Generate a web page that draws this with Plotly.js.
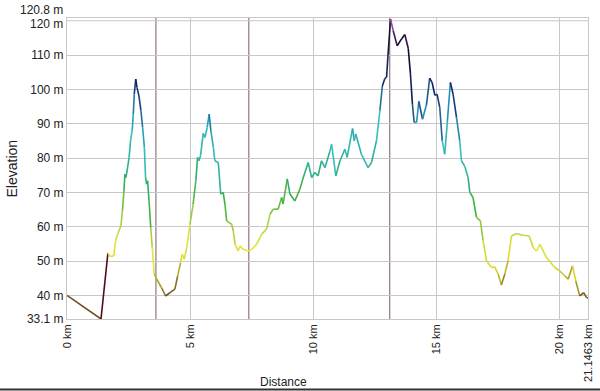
<!DOCTYPE html>
<html>
<head>
<meta charset="utf-8">
<script src="https://cdn.plot.ly/plotly-3.0.1.min.js"></script>
<style>html,body{margin:0;padding:0;background:#fff;}#chart{width:600px;height:391px;}</style>
</head>
<body>
<div id="chart"></div>
<script>
// Distance along route (km)
const distanceKm = [0, 1.38, 1.66, 1.76, 1.90, 1.97, 2.08, 2.19, 2.25, 2.31, 2.35, 2.39, 2.45, 2.52, 2.58, 2.65, 2.69, 2.73, 2.79, 2.84, 2.92, 3.00, 3.07, 3.14, 3.19, 3.23, 3.27, 3.33, 3.40, 3.46, 3.54, 3.64, 3.84, 4.00, 4.18, 4.38, 4.49, 4.61, 4.68, 4.76, 4.86, 4.99, 5.12, 5.23, 5.30, 5.35, 5.42, 5.53, 5.60, 5.69, 5.77, 5.84, 5.94, 6.00, 6.14, 6.24, 6.34, 6.41, 6.48, 6.68, 6.75, 6.82, 6.95, 7.02, 7.15, 7.36, 7.49, 7.70, 7.90, 8.10, 8.24, 8.37, 8.57, 8.71, 8.77, 8.94, 9.05, 9.25, 9.45, 9.61, 9.79, 9.93, 10.06, 10.19, 10.33, 10.47, 10.67, 10.74, 10.91, 11.08, 11.28, 11.37, 11.59, 11.66, 11.72, 11.95, 12.22, 12.36, 12.56, 12.70, 12.80, 12.90, 12.97, 13.03, 13.13, 13.24, 13.40, 13.58, 13.71, 13.85, 13.94, 14.02, 14.09, 14.19, 14.28, 14.43, 14.59, 14.72, 14.82, 14.93, 15.02, 15.13, 15.23, 15.33, 15.44, 15.56, 15.67, 15.81, 15.94, 16.01, 16.15, 16.28, 16.35, 16.48, 16.62, 16.78, 16.89, 17.03, 17.23, 17.36, 17.50, 17.63, 17.77, 17.90, 18.04, 18.24, 18.51, 18.76, 18.92, 19.06, 19.19, 19.46, 19.80, 20.00, 20.20, 20.34, 20.52, 20.65, 20.81, 20.97, 21.08, 21.1463];
// Elevation (m)
const elevationM = [40, 33.1, 52.3, 51.3, 51.5, 55.9, 58.3, 60.2, 64.6, 70.4, 75.3, 74.3, 76.8, 80.2, 85.0, 88.4, 92.8, 98.6, 103.0, 100.6, 98.1, 93.8, 88.9, 83.1, 74.3, 72.4, 73.4, 67.5, 59.7, 53.9, 46.2, 44.7, 42.2, 39.8, 40.8, 41.8, 45.6, 49.5, 52.0, 50.5, 53.9, 60.7, 66.6, 73.4, 80.2, 79.2, 80.7, 87.2, 86.0, 88.9, 92.8, 87.9, 83.1, 79.2, 78.7, 69.5, 70.0, 66.6, 61.7, 60.7, 58.8, 54.9, 52.9, 54.4, 53.4, 52.9, 53.4, 54.9, 57.8, 59.3, 63.6, 65.1, 65.1, 68.5, 66.6, 73.9, 69.5, 67.5, 70.9, 74.8, 78.7, 74.3, 75.8, 74.8, 79.2, 77.2, 82.0, 84.0, 74.8, 79.2, 82.6, 80.2, 88.6, 85.0, 87.0, 81.1, 77.2, 78.7, 85.0, 93.8, 101.0, 103.2, 103.5, 110.0, 120.5, 117.1, 112.7, 114.7, 116.0, 112.0, 104.5, 95.7, 90.4, 90.4, 96.5, 91.3, 95.5, 103.3, 102.0, 98.3, 98.6, 94.7, 85.0, 81.1, 90.8, 102.0, 98.6, 91.8, 85.0, 79.2, 77.5, 74.3, 70.0, 68.5, 62.7, 61.7, 55.9, 50.0, 48.1, 48.3, 46.2, 43.0, 46.2, 50.0, 57.3, 58.0, 57.5, 57.3, 53.9, 52.9, 54.9, 51.0, 48.1, 47.1, 45.7, 44.7, 48.6, 44.2, 39.8, 40.8, 39.4, 39.2];
// Waypoint markers (km)
const markerKm = [3.61, 7.38, 13.10];
// Axis ticks
const xTickVals = [0, 5, 10, 15, 20, 21.1463];
const xTickText = ['0 km', '5 km', '10 km', '15 km', '20 km', '21.1463 km'];
const yTickVals = [33.1, 40, 50, 60, 70, 80, 90, 100, 110];
const yTickText = ['33.1 m', '40 m', '50 m', '60 m', '70 m', '80 m', '90 m', '100 m', '110 m'];
const yGridTop = 120, yGridTopText = '120 m';
const yMin = 33.1, yMax = 120.8, yMaxText = '120.8 m';

// elevation colour ramp (style)
const ramp = [
  [33, '#520a1c'], [37, '#5c3218'], [40, '#6a5020'], [44, '#a09828'], [48, '#d8d030'],
  [53, '#e6e640'], [58, '#c4d440'], [63, '#84c440'], [68, '#40b040'], [73, '#30b068'],
  [78, '#30b0a0'], [85, '#34c0c0'], [92, '#2088a8'], [97, '#204488'], [102, '#122466'],
  [108, '#101a3c'], [114, '#100a2a'], [118, '#502060'], [121, '#a050b0']
];
function hex2rgb(h){return [parseInt(h.slice(1,3),16),parseInt(h.slice(3,5),16),parseInt(h.slice(5,7),16)];}
function colorAt(v){
  if (v <= ramp[0][0]) return ramp[0][1];
  for (let i = 1; i < ramp.length; i++) {
    if (v <= ramp[i][0]) {
      const t = (v - ramp[i-1][0]) / (ramp[i][0] - ramp[i-1][0]);
      const a = hex2rgb(ramp[i-1][1]), b = hex2rgb(ramp[i][1]);
      const c = a.map((x, k) => Math.round(x + (b[k] - x) * t));
      return 'rgb(' + c.join(',') + ')';
    }
  }
  return ramp[ramp.length-1][1];
}

const traces = [];
for (let i = 0; i < distanceKm.length - 1; i++) {
  traces.push({
    type: 'scatter', mode: 'lines',
    x: [distanceKm[i], distanceKm[i+1]],
    y: [elevationM[i], elevationM[i+1]],
    line: {color: colorAt(elevationM[i]), width: 1.6},
    hoverinfo: 'skip', showlegend: false
  });
}

const fam = 'Liberation Sans, Arial, sans-serif';
const xfont = {family: fam, size: 11, color: '#222'};
const yfont = {family: fam, size: 12, color: '#222'};
const shapes = markerKm.map(k => ({
  type: 'line', xref: 'x', yref: 'paper', x0: k, x1: k, y0: 0, y1: 1,
  line: {color: '#7a5c60', width: 1}, layer: 'below'
}));
shapes.push({type: 'line', xref: 'x', yref: 'y', x0: 0, x1: 21.1463, y0: yGridTop, y1: yGridTop,
  line: {color: '#c8c8c8', width: 1}, layer: 'below'});
shapes.push({type: 'line', xref: 'paper', yref: 'paper', x0: -0.2, x1: 1.1, y0: -0.2342, y1: -0.2342,
  line: {color: '#333', width: 2}});

const layout = {
  width: 600, height: 391,
  margin: {l: 67, r: 12, t: 18, b: 72},
  paper_bgcolor: '#fff', plot_bgcolor: '#fff',
  font: xfont,
  showlegend: false,
  xaxis: {
    range: [0, 21.1463], tickvals: xTickVals, ticktext: xTickText, tickangle: -90,
    showgrid: true, gridcolor: '#c8c8c8', gridwidth: 1, zeroline: false,
    showline: true, mirror: true, linecolor: '#c8c8c8', linewidth: 1,
    ticks: '', tickfont: xfont, fixedrange: true
  },
  yaxis: {
    range: [yMin, yMax], tickvals: yTickVals, ticktext: yTickText,
    showgrid: true, gridcolor: '#c8c8c8', gridwidth: 1, zeroline: false,
    showline: true, mirror: true, linecolor: '#c8c8c8', linewidth: 1,
    ticks: '', tickfont: yfont, fixedrange: true
  },
  shapes: shapes,
  annotations: [
    {text: yMaxText, xref: 'paper', yref: 'y', x: 0, y: yMax, xanchor: 'right', yanchor: 'middle',
     xshift: -3, yshift: 8, showarrow: false, font: yfont, borderpad: 0},
    {text: yGridTopText, xref: 'paper', yref: 'y', x: 0, y: yGridTop, xanchor: 'right', yanchor: 'middle',
     xshift: -3, yshift: -3, showarrow: false, font: yfont, borderpad: 0},
    {text: 'Distance', xref: 'paper', yref: 'paper', x: 0.4165, y: -0.209, xanchor: 'center', yanchor: 'middle',
     showarrow: false, font: {family: fam, size: 12, color: '#222'}},
    {text: 'Elevation', xref: 'paper', yref: 'paper', x: -0.1056, y: 0.5, xanchor: 'center', yanchor: 'middle',
     textangle: -90, showarrow: false, font: {family: fam, size: 14, color: '#222'}}
  ]
};
Plotly.newPlot('chart', traces, layout, {displayModeBar: false, staticPlot: true});
</script>
</body>
</html>
